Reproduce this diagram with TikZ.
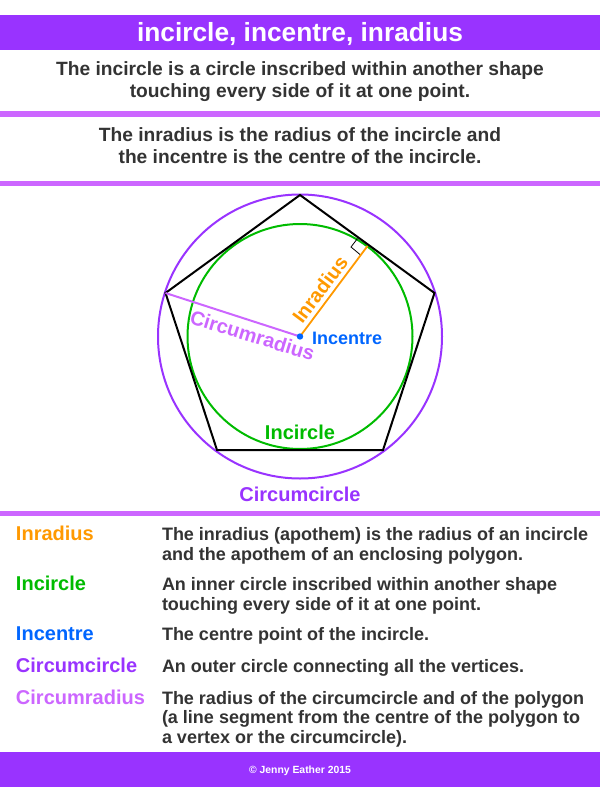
\documentclass[tikz,border=0pt]{standalone}
\usepackage{fontspec}
\setmainfont{Liberation Sans}[BoldFont={Liberation Sans Bold}]
\definecolor{barpurple}{HTML}{9933FF}
\definecolor{linepurple}{HTML}{CC66FF}
\definecolor{textdark}{HTML}{333333}
\definecolor{inorange}{HTML}{FF9900}
\definecolor{ingreen}{HTML}{00BB00}
\definecolor{inblue}{HTML}{0066FF}
\tikzset{
  txt/.style={inner sep=0pt,outer sep=0pt,font=\bfseries},
  head/.style={txt,anchor=base,text=textdark,font=\fontsize{19.2}{20}\bfseries},
  term/.style={txt,anchor=base west,font=\fontsize{20}{22}\bfseries},
  desc/.style={txt,anchor=base west,text=textdark,font=\fontsize{18}{20}\bfseries},
  lbl/.style={txt,anchor=base,font=\fontsize{20}{22}\bfseries}
}
\begin{document}
\begin{tikzpicture}[x=1pt,y=-1pt,line join=miter]
\useasboundingbox (0,0) rectangle (600,787);
\fill[white] (0,0) rectangle (600,787);
% bars
\fill[barpurple] (0,15) rectangle (600,49.5);
\fill[linepurple] (0,111) rectangle (600,116.5);
\fill[linepurple] (0,180.5) rectangle (600,185.5);
\fill[linepurple] (0,511) rectangle (600,516);
\fill[barpurple] (0,752) rectangle (600,787);
% heading text
\node[txt,anchor=base,text=white,font=\fontsize{26.3}{28}\bfseries] (title) at (300,41) {incircle, incentre, inradius};
\node[head] (h1) at (300,75) {The incircle is a circle inscribed within another shape};
\node[head] (h2) at (300,97.5) {touching every side of it at one point.};
\node[head] (h3) at (300,141) {The inradius is the radius of the incircle and};
\node[head] (h4) at (300,163.5) {the incentre is the centre of the incircle.};
% geometry
\coordinate (O) at (300,336.5);
\coordinate (A) at (300,195);
\coordinate (B) at (434.5,293);
\coordinate (C) at (383,450);
\coordinate (D) at (217,450);
\coordinate (E) at (165.5,293);
\coordinate (T) at (367.5,246);
\draw[barpurple,line width=2pt] (O) circle (142);
\draw[ingreen,line width=2pt] (O) circle (112.5);
\draw[black,line width=2pt] (A) -- (B) -- (C) -- (D) -- (E) -- cycle;
\draw[black,line width=0.8pt] (357.5,238.5) -- (351,247) -- (360,254.5);
\draw[inorange,line width=1.8pt] (O) -- (T);
\draw[linepurple,line width=2pt] (O) -- (E);
\fill[inblue] (O) circle (3.2);
\node[txt,anchor=center,text=inorange,rotate=53,font=\fontsize{20}{22}\bfseries] (lr) at (320,289.5) {Inradius};
\node[txt,anchor=center,text=linepurple,rotate=-17,font=\fontsize{20}{22}\bfseries] (lc) at (252.5,335.5) {Circumradius};
\node[txt,anchor=base west,text=inblue,font=\fontsize{18}{20}\bfseries] (li) at (312,344) {Incentre};
\node[lbl,text=ingreen] (lic) at (300,439) {Incircle};
\node[lbl,text=barpurple] (lcc) at (300,501) {Circumcircle};
% legend
\node[term,text=inorange] (t1) at (16,540.5) {Inradius};
\node[desc] (d1a) at (162,540) {The inradius (apothem) is the radius of an incircle};
\node[desc] (d1b) at (162,560) {and the apothem of an enclosing polygon.};
\node[term,text=ingreen] (t2) at (16,590.5) {Incircle};
\node[desc] (d2a) at (162,590) {An inner circle inscribed within another shape};
\node[desc] (d2b) at (162,610) {touching every side of it at one point.};
\node[term,text=inblue] (t3) at (16,640.5) {Incentre};
\node[desc] (d3) at (162,640) {The centre point of the incircle.};
\node[term,text=barpurple] (t4) at (16,672.5) {Circumcircle};
\node[desc] (d4) at (162,672) {An outer circle connecting all the vertices.};
\node[term,text=linepurple] (t5) at (16,704.5) {Circumradius};
\node[desc] (d5a) at (162,704) {The radius of the circumcircle and of the polygon};
\node[desc] (d5b) at (162,723.5) {(a line segment from the centre of the polygon to};
\node[desc] (d5c) at (162,743) {a vertex or the circumcircle).};
\node[txt,anchor=base,text=white,font=\fontsize{10.4}{12}\bfseries] (foot) at (300,773) {© Jenny Eather 2015};
\end{tikzpicture}
\end{document}
